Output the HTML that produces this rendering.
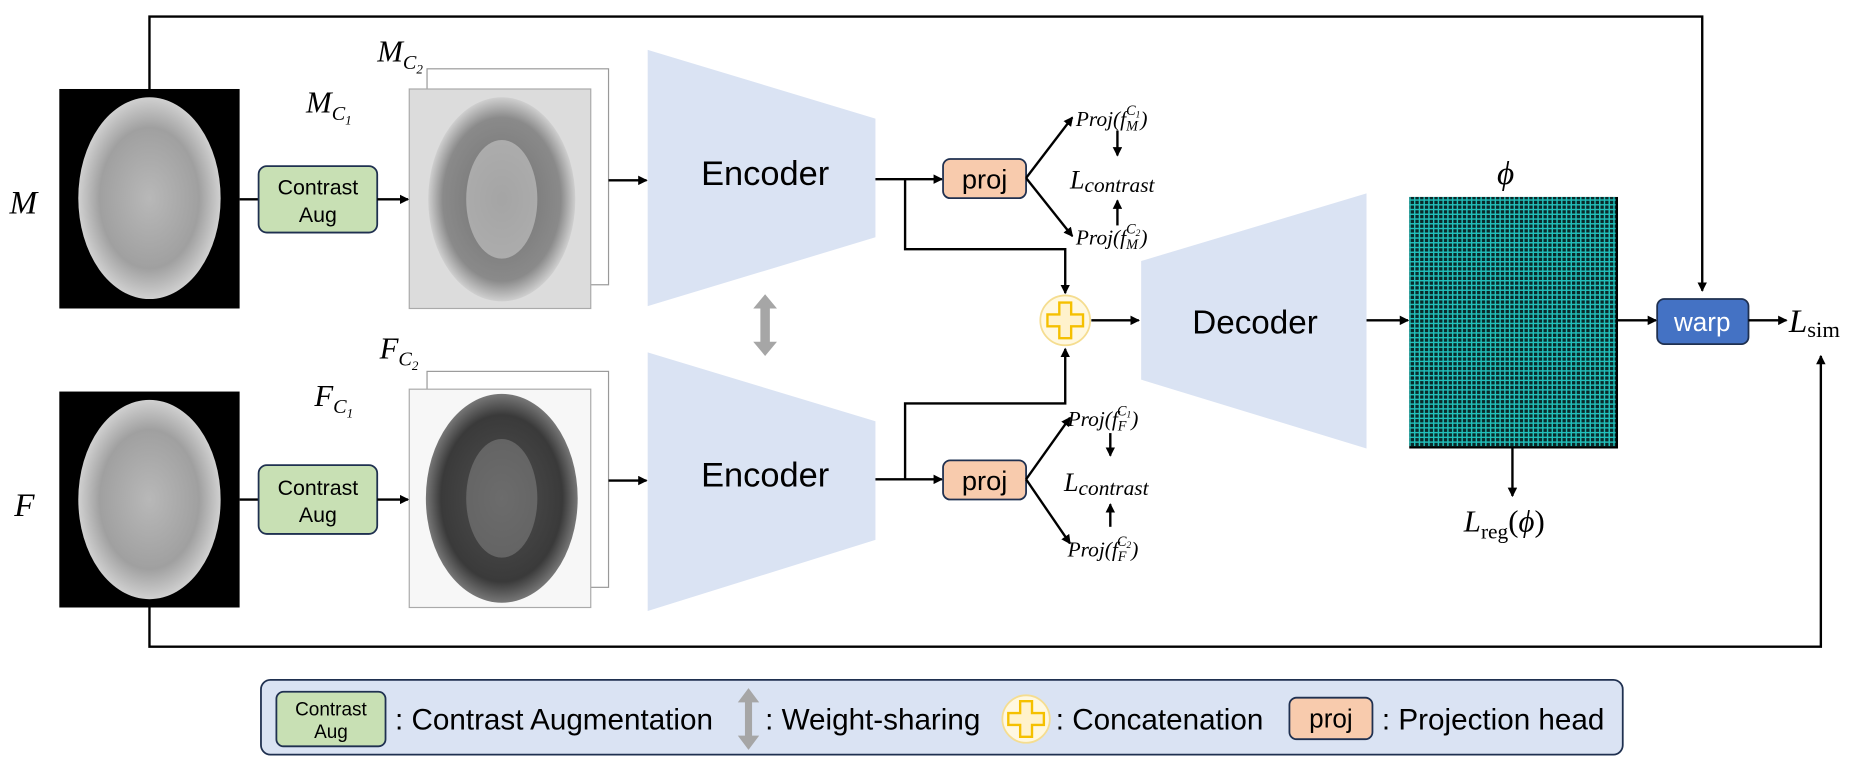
<!DOCTYPE html>
<html><head><meta charset="utf-8"><style>
html,body{margin:0;padding:0;background:#fff;width:1860px;height:757px;overflow:hidden}
svg{display:block}
.s{font-family:"Liberation Sans",sans-serif}
.m{font-family:"Liberation Serif",serif;font-style:italic}
.r{font-family:"Liberation Serif",serif}
</style></head><body>
<svg width="1860" height="757" viewBox="0 0 1568 638" preserveAspectRatio="none" xmlns="http://www.w3.org/2000/svg">
<defs>
<marker id="a" markerWidth="8" markerHeight="8" refX="7" refY="4" orient="auto" markerUnits="userSpaceOnUse"><path d="M0,0 L8,4 L0,8 z" fill="#000"/></marker>
<pattern id="g" width="4" height="4" patternUnits="userSpaceOnUse"><rect width="4" height="4" fill="#0a2a2a"/><path d="M0,0.6 H4 M0.6,0 V4" stroke="#22c0bb" stroke-width="1.2"/></pattern>
<radialGradient id="bw" cx="50%" cy="50%" r="50%"><stop offset="0" stop-color="#b8b8b8"/><stop offset="0.7" stop-color="#a0a0a0"/><stop offset="1" stop-color="#d0d0d0"/></radialGradient>
<radialGradient id="bc1" cx="50%" cy="50%" r="50%"><stop offset="0" stop-color="#707070"/><stop offset="0.8" stop-color="#8a8a8a"/><stop offset="1" stop-color="#cfcfcf"/></radialGradient>
<radialGradient id="bc2" cx="50%" cy="50%" r="50%"><stop offset="0" stop-color="#505050"/><stop offset="0.8" stop-color="#3a3a3a"/><stop offset="1" stop-color="#777"/></radialGradient>
</defs>

<polyline points="126,75 126,14 1435,14 1435,245" fill="none" stroke="#000" stroke-width="2" marker-end="url(#a)"/>
<polyline points="126,512 126,545 1535,545 1535,300" fill="none" stroke="#000" stroke-width="2" marker-end="url(#a)"/>

<rect x="50" y="75" width="152" height="185" fill="#000"/>
<ellipse cx="126" cy="167" rx="60" ry="85" fill="url(#bw)"/>
<rect x="50" y="330" width="152" height="182" fill="#000"/>
<ellipse cx="126" cy="421" rx="60" ry="84" fill="url(#bw)"/>
<text x="8" y="180" class="m" font-size="28">M</text>
<text x="12" y="435" class="m" font-size="28">F</text>

<line x1="202" y1="168" x2="218" y2="168" stroke="#000" stroke-width="2"/>
<line x1="202" y1="421" x2="218" y2="421" stroke="#000" stroke-width="2"/>
<rect x="218" y="140" width="100" height="56" rx="7" fill="#c8e0b4" stroke="#1f3050" stroke-width="1.5"/>
<text x="268" y="164" class="s" font-size="18" text-anchor="middle">Contrast</text>
<text x="268" y="187" class="s" font-size="18" text-anchor="middle">Aug</text>
<rect x="218" y="392" width="100" height="58" rx="7" fill="#c8e0b4" stroke="#1f3050" stroke-width="1.5"/>
<text x="268" y="417" class="s" font-size="18" text-anchor="middle">Contrast</text>
<text x="268" y="440" class="s" font-size="18" text-anchor="middle">Aug</text>
<line x1="318" y1="168" x2="344" y2="168" stroke="#000" stroke-width="2" marker-end="url(#a)"/>
<line x1="318" y1="421" x2="344" y2="421" stroke="#000" stroke-width="2" marker-end="url(#a)"/>

<rect x="360" y="58" width="153" height="182" fill="#fff" stroke="#999"/>
<rect x="345" y="75" width="153" height="185" fill="#dcdcdc" stroke="#aaa"/>
<ellipse cx="423" cy="168" rx="62" ry="86" fill="url(#bc1)"/>
<ellipse cx="423" cy="168" rx="30" ry="50" fill="#c8c8c8" opacity="0.6"/>
<rect x="360" y="313" width="153" height="182" fill="#fff" stroke="#999"/>
<rect x="345" y="328" width="153" height="184" fill="#f7f7f7" stroke="#aaa"/>
<ellipse cx="423" cy="420" rx="64" ry="88" fill="url(#bc2)"/>
<ellipse cx="423" cy="420" rx="30" ry="50" fill="#888" opacity="0.5"/>
<text x="318" y="52" class="m" font-size="26">M<tspan font-size="17" dy="6">C</tspan><tspan font-size="11" dy="4">2</tspan></text>
<text x="258" y="95" class="m" font-size="26">M<tspan font-size="17" dy="6">C</tspan><tspan font-size="11" dy="4">1</tspan></text>
<text x="320" y="302" class="m" font-size="26">F<tspan font-size="17" dy="6">C</tspan><tspan font-size="11" dy="4">2</tspan></text>
<text x="265" y="342" class="m" font-size="26">F<tspan font-size="17" dy="6">C</tspan><tspan font-size="11" dy="4">1</tspan></text>
<line x1="513" y1="152" x2="545" y2="152" stroke="#000" stroke-width="2" marker-end="url(#a)"/>
<line x1="513" y1="405" x2="545" y2="405" stroke="#000" stroke-width="2" marker-end="url(#a)"/>

<polygon points="546,42 738,100 738,200 546,258" fill="#dae3f3"/>
<text x="645" y="156" class="s" font-size="29" text-anchor="middle">Encoder</text>
<polygon points="546,297 738,355 738,455 546,515" fill="#dae3f3"/>
<text x="645" y="410" class="s" font-size="29" text-anchor="middle">Encoder</text>
<polygon points="645,248 655,260 649,260 649,288 655,288 645,300 635,288 641,288 641,260 635,260" fill="#a6a6a6"/>

<line x1="738" y1="151" x2="794" y2="151" stroke="#000" stroke-width="2" marker-end="url(#a)"/>
<polyline points="763,151 763,210 898,210 898,247" fill="none" stroke="#000" stroke-width="2" marker-end="url(#a)"/>
<line x1="738" y1="404" x2="794" y2="404" stroke="#000" stroke-width="2" marker-end="url(#a)"/>
<polyline points="763,404 763,340 898,340 898,294" fill="none" stroke="#000" stroke-width="2" marker-end="url(#a)"/>

<rect x="795" y="134" width="70" height="33" rx="6" fill="#f8cbad" stroke="#1f3050" stroke-width="1.5"/>
<text x="830" y="159" class="s" font-size="23" text-anchor="middle">proj</text>
<rect x="795" y="388" width="70" height="33" rx="6" fill="#f8cbad" stroke="#1f3050" stroke-width="1.5"/>
<text x="830" y="413" class="s" font-size="23" text-anchor="middle">proj</text>

<line x1="865" y1="150" x2="904" y2="99" stroke="#000" stroke-width="2" marker-end="url(#a)"/>
<line x1="865" y1="150" x2="904" y2="199" stroke="#000" stroke-width="2" marker-end="url(#a)"/>
<text x="907" y="106" class="m" font-size="18">Proj(f<tspan font-size="12" dy="4">M</tspan><tspan font-size="12" dx="-10" dy="-13">C</tspan><tspan font-size="8" dy="2">1</tspan><tspan font-size="18" dy="7">)</tspan></text>
<text x="902" y="159" class="m" font-size="22">L<tspan font-size="18" dy="3">contrast</tspan></text>
<line x1="942" y1="110" x2="942" y2="131" stroke="#000" stroke-width="2" marker-end="url(#a)"/>
<line x1="942" y1="190" x2="942" y2="169" stroke="#000" stroke-width="2" marker-end="url(#a)"/>
<text x="907" y="206" class="m" font-size="18">Proj(f<tspan font-size="12" dy="4">M</tspan><tspan font-size="12" dx="-10" dy="-13">C</tspan><tspan font-size="8" dy="2">2</tspan><tspan font-size="18" dy="7">)</tspan></text>

<line x1="865" y1="404" x2="902" y2="352" stroke="#000" stroke-width="2" marker-end="url(#a)"/>
<line x1="865" y1="404" x2="902" y2="458" stroke="#000" stroke-width="2" marker-end="url(#a)"/>
<text x="900" y="359" class="m" font-size="18">Proj(f<tspan font-size="12" dy="4">F</tspan><tspan font-size="12" dx="-8" dy="-13">C</tspan><tspan font-size="8" dy="2">1</tspan><tspan font-size="18" dy="7">)</tspan></text>
<text x="897" y="414" class="m" font-size="22">L<tspan font-size="18" dy="3">contrast</tspan></text>
<line x1="936" y1="365" x2="936" y2="384" stroke="#000" stroke-width="2" marker-end="url(#a)"/>
<line x1="936" y1="444" x2="936" y2="425" stroke="#000" stroke-width="2" marker-end="url(#a)"/>
<text x="900" y="469" class="m" font-size="18">Proj(f<tspan font-size="12" dy="4">F</tspan><tspan font-size="12" dx="-8" dy="-13">C</tspan><tspan font-size="8" dy="2">2</tspan><tspan font-size="18" dy="7">)</tspan></text>

<circle cx="898" cy="270" r="21" fill="#fff8e0" stroke="#f5dd90" stroke-width="1.5"/>
<path d="M893,255 h10 v10 h10 v10 h-10 v10 h-10 v-10 h-10 v-10 h10 z" fill="#fff2cc" stroke="#f5c000" stroke-width="2"/>
<line x1="920" y1="270" x2="960" y2="270" stroke="#000" stroke-width="2" marker-end="url(#a)"/>

<polygon points="962,220 1152,163 1152,378 962,320" fill="#dae3f3"/>
<text x="1058" y="281" class="s" font-size="28" text-anchor="middle">Decoder</text>
<line x1="1152" y1="270" x2="1187" y2="270" stroke="#000" stroke-width="2" marker-end="url(#a)"/>

<rect x="1188" y="166" width="176" height="212" fill="#000"/>
<rect x="1188" y="166" width="174" height="210" fill="url(#g)"/>
<text x="1262" y="155" class="m" font-size="28">ϕ</text>
<line x1="1275" y1="378" x2="1275" y2="418" stroke="#000" stroke-width="2" marker-end="url(#a)"/>
<text x="1234" y="448" class="m" font-size="26">L<tspan class="r" font-style="normal" font-size="18" dy="6">reg</tspan><tspan class="r" font-style="normal" font-size="26" dy="-6">(</tspan>ϕ<tspan class="r" font-style="normal">)</tspan></text>

<line x1="1364" y1="270" x2="1396" y2="270" stroke="#000" stroke-width="2" marker-end="url(#a)"/>
<rect x="1397" y="252" width="77" height="38" rx="6" fill="#4472c4" stroke="#1f3050" stroke-width="1.5"/>
<text x="1435" y="279" class="s" font-size="22" fill="#fff" text-anchor="middle">warp</text>
<line x1="1474" y1="270" x2="1506" y2="270" stroke="#000" stroke-width="2" marker-end="url(#a)"/>
<text x="1508" y="280" class="m" font-size="28">L<tspan class="r" font-style="normal" font-size="19" dy="4">sim</tspan></text>

<rect x="220" y="573" width="1148" height="63" rx="8" fill="#dae3f3" stroke="#1f3050" stroke-width="1.5"/>
<rect x="233" y="583" width="92" height="46" rx="6" fill="#c8e0b4" stroke="#1f3050" stroke-width="1.5"/>
<text x="279" y="603" class="s" font-size="16" text-anchor="middle">Contrast</text>
<text x="279" y="622" class="s" font-size="16" text-anchor="middle">Aug</text>
<text x="333" y="615" class="s" font-size="25">: Contrast Augmentation</text>
<polygon points="631,580 640,592 634,592 634,620 640,620 631,632 622,620 628,620 628,592 622,592" fill="#a6a6a6"/>
<text x="645" y="615" class="s" font-size="25">: Weight-sharing</text>
<circle cx="865" cy="606" r="20" fill="#fff8e0" stroke="#f5dd90" stroke-width="1.5"/>
<path d="M860,591 h10 v10 h10 v10 h-10 v10 h-10 v-10 h-10 v-10 h10 z" fill="#fff2cc" stroke="#f5c000" stroke-width="2"/>
<text x="890" y="615" class="s" font-size="25">: Concatenation</text>
<rect x="1087" y="588" width="70" height="35" rx="6" fill="#f8cbad" stroke="#1f3050" stroke-width="1.5"/>
<text x="1122" y="613" class="s" font-size="22" text-anchor="middle">proj</text>
<text x="1165" y="615" class="s" font-size="25">: Projection head</text>
</svg>
</body></html>
